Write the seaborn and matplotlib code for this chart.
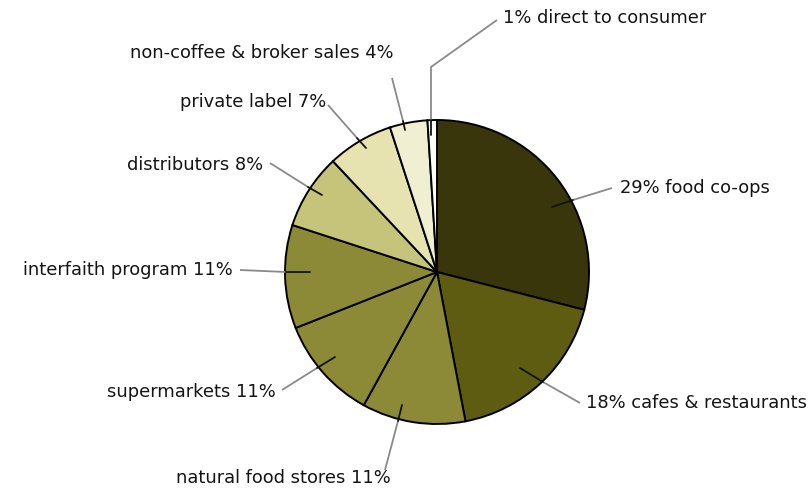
import numpy as np
import pandas as pd
import matplotlib
matplotlib.use("Agg")
import matplotlib.pyplot as plt
import seaborn as sns

sns.set_theme(style="white")

# ---- data (clockwise from 12 o'clock) ----
categories = ["food co-ops", "cafes & restaurants", "natural food stores",
              "supermarkets", "interfaith program", "distributors",
              "private label", "non-coffee & broker sales", "direct to consumer"]
shares = [29, 18, 11, 11, 11, 8, 7, 4, 1]
labels = ["29% food co-ops", "18% cafes & restaurants", "natural food stores 11%",
          "supermarkets 11%", "interfaith program 11%", "distributors 8%",
          "private label 7%", "non-coffee & broker sales 4%", "1% direct to consumer"]

# ---- style ----
colors = ["#38360a", "#5e5c10", "#8c8a36", "#8c8a36", "#8c8a36",
          "#c6c47a", "#e6e3b0", "#f1efd2", "#fffff4"]

plt.rcParams["font.family"] = ["DejaVu Sans"]

W, H = 812, 491
fig = plt.figure(figsize=(W / 100, H / 100), dpi=100)
ax = fig.add_axes([0, 0, 1, 1])

def P(x, y):
    return (x, H - y)

cx, cy, R = 437, 272, 152
wedges, _ = ax.pie(shares, colors=colors, startangle=90, counterclock=False,
                   center=P(cx, cy), radius=R, frame=True,
                   wedgeprops=dict(edgecolor="black", linewidth=1.4))
ax.set_xlim(0, W)
ax.set_ylim(0, H)
ax.set_aspect("equal")
ax.axis("off")

# label layout: (text anchor px, ha, leader points from text side to pie edge, inner point)
layout = [
    ((620, 188), "left",  [(612, 188), (573, 200)], (552, 207)),
    ((586, 403), "left",  [(580, 403), (543, 382)], (520, 368)),
    ((391, 478), "right", [(385, 470), (398, 421)], (402, 405)),
    ((276, 392), "right", [(282, 390), (317, 368)], (335, 357)),
    ((233, 270), "right", [(240, 270), (286, 272)], (310, 272)),
    ((263, 165), "right", [(270, 163), (308, 187)], (322, 195)),
    ((326, 102), "right", [(328, 105), (357, 138)], (366, 148)),
    ((394, 53),  "right", [(392, 78), (403, 121)], (405, 130)),
    ((503, 18),  "left",  [(497, 20), (431, 67), (431, 120)], (431, 135)),
]

for lab, (txt, ha, pts, inner) in zip(labels, layout):
    xs = [P(*p)[0] for p in pts]
    ys = [P(*p)[1] for p in pts]
    ax.plot(xs, ys, color="#8a8a8a", lw=1.3, zorder=3, solid_capstyle="butt")
    ax.plot([xs[-1], P(*inner)[0]], [ys[-1], P(*inner)[1]],
            color="#111111", lw=1.3, zorder=3)
    ax.text(*P(*txt), lab, ha=ha, va="center", fontsize=12.9, color="#141414",
            zorder=4)

fig.savefig("out.png", dpi=100, facecolor="white")
